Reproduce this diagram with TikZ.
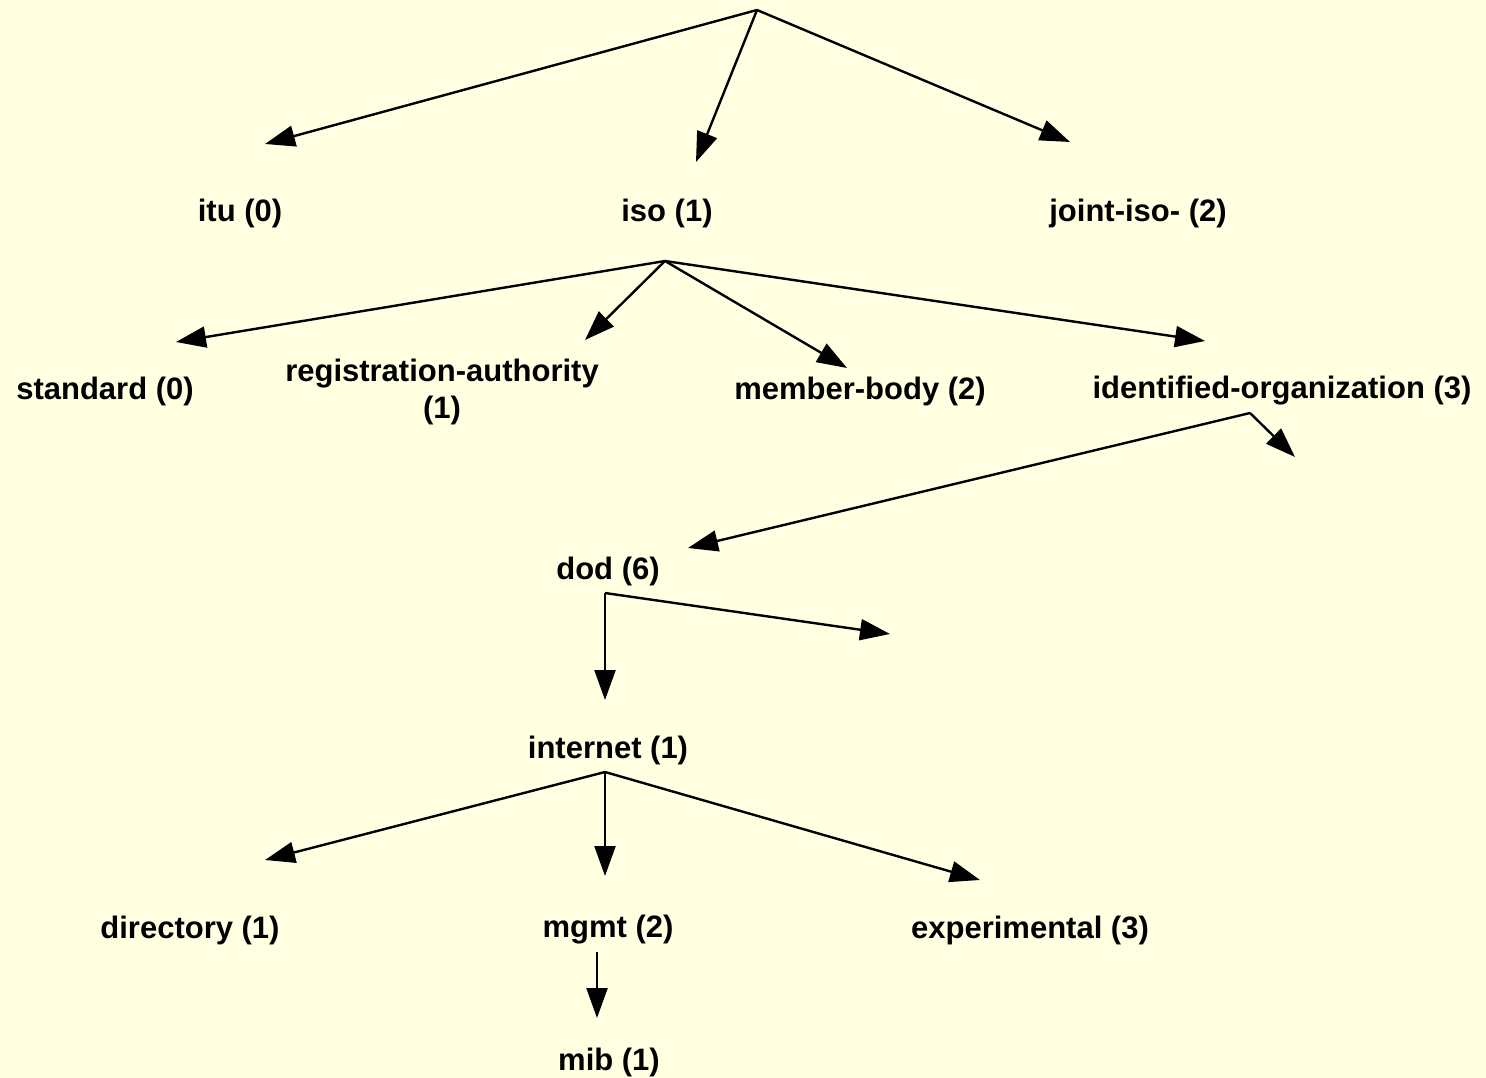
\documentclass[tikz,border=0pt]{standalone}
\usepackage{fontspec}
\setmainfont{Liberation Sans}
\usetikzlibrary{arrows.meta}
\definecolor{paper}{RGB}{255,255,225}
\begin{document}
\begin{tikzpicture}[x=1pt,y=-1pt,
    oid/.style={inner sep=0pt,align=center,
      font=\fontsize{31}{37}\selectfont\bfseries},
    branch/.style={line width=2.4pt,-{Triangle[length=30pt,width=21pt]}}]
        \fill[paper] (0,0) rectangle (1486,1078);
        \useasboundingbox (0,0) rectangle (1486,1078);

        \node[oid] (itu) at (240,213) {itu (0)};
        \node[oid] (iso) at (667,213) {iso (1)};
        \node[oid] (joint) at (1138,213) {joint-iso- (2)};
        \node[oid] (standard) at (105,391) {standard (0)};
        \node[oid] (regauth) at (442,392) {registration-authority\\(1)};
        \node[oid] (member) at (860,391) {member-body (2)};
        \node[oid] (identorg) at (1282,391) {identified-organization (3)};
        \node[oid] (dod) at (608,571) {dod (6)};
        \node[oid] (internet) at (608,750) {internet (1)};
        \node[oid] (directory) at (190,930) {directory (1)};
        \node[oid] (mgmt) at (608,930) {mgmt (2)};
        \node[oid] (experimental) at (1030,930) {experimental (3)};
        \node[oid] (mib) at (609,1062) {mib (1)};

        \coordinate (root) at (757,10);
        \coordinate (isofork) at (665,261);
        \coordinate (orgfork) at (1250,413);
        \coordinate (dodfork) at (605,593);
        \coordinate (netfork) at (605,772);
        \coordinate (mgmtfork) at (597,952);

        \coordinate (ituend) at (265,144);
        \coordinate (isoend) at (696,162);
        \coordinate (jointend) at (1070,142);
        \coordinate (standardend) at (176,342);
        \coordinate (regauthend) at (585,340);
        \coordinate (memberend) at (847,368);
        \coordinate (identorgend) at (1205,341);
        \coordinate (dodend) at (688,548);
        \coordinate (orgnext) at (1295,457);
        \coordinate (internetend) at (605,700);
        \coordinate (dodnext) at (890,634);
        \coordinate (directoryend) at (265,860);
        \coordinate (mgmtend) at (605,876);
        \coordinate (experimentalend) at (980,880);
        \coordinate (mibend) at (597,1018);

        \draw[branch] (root) -- (ituend);
        \draw[branch] (root) -- (isoend);
        \draw[branch] (root) -- (jointend);
        \draw[branch] (isofork) -- (standardend);
        \draw[branch] (isofork) -- (regauthend);
        \draw[branch] (isofork) -- (memberend);
        \draw[branch] (isofork) -- (identorgend);
        \draw[branch] (orgfork) -- (dodend);
        \draw[branch] (orgfork) -- (orgnext);
        \draw[branch] (dodfork) -- (internetend);
        \draw[branch] (dodfork) -- (dodnext);
        \draw[branch] (netfork) -- (directoryend);
        \draw[branch] (netfork) -- (mgmtend);
        \draw[branch] (netfork) -- (experimentalend);
        \draw[branch] (mgmtfork) -- (mibend);
      \end{tikzpicture}
\end{document}
